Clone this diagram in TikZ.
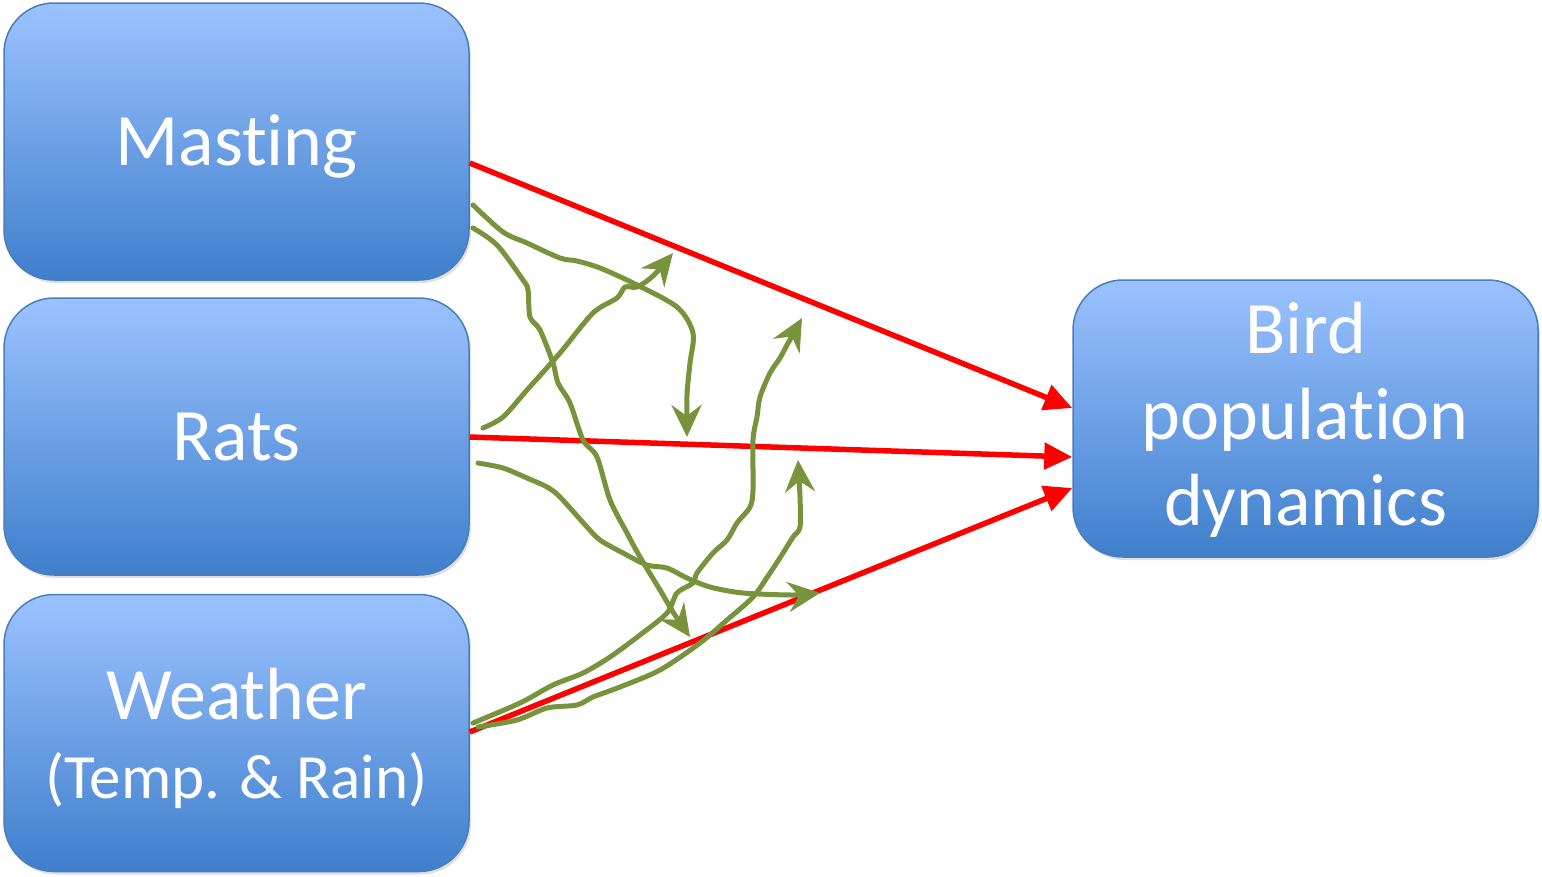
\documentclass[tikz,border=0pt]{standalone}
\usepackage{fontspec}
\setmainfont{Carlito}[Ligatures=NoCommon]
\usetikzlibrary{arrows.meta,shadows,calc}
\definecolor{boxtop}{HTML}{9BC2FF}
\definecolor{boxbot}{HTML}{3F7FCC}
\definecolor{boxline}{HTML}{4A7EBB}
\definecolor{olive}{HTML}{77933C}
\newcommand{\upstrut}[1]{\rule{0pt}{#1}}
\newcommand{\dnstrut}[1]{\rule[-#1]{0pt}{#1}}
\tikzset{
  factor/.style={draw=boxline, line width=1.5pt, rounded corners=50pt,
    top color=boxtop, bottom color=boxbot, minimum width=465pt, minimum height=277pt,
    text=white, align=center, font=\fontsize{74}{86}\selectfont, inner sep=0pt,
    drop shadow={opacity=0.25, shadow xshift=2pt, shadow yshift=-3pt}},
  effect/.style={draw=red, line width=5.5pt, -{Triangle[length=28pt,width=26pt]}},
  link/.style={draw=olive, line width=5pt, line cap=round, line join=round,
    -{Stealth[length=32pt,width=30pt,inset=11pt]}}
}
\begin{document}
\begin{tikzpicture}[x=1pt,y=-1pt]
\useasboundingbox (0,0) rectangle (1542,876);
\node[factor] (mast) at (236.5,141.5) {\upstrut{68.4pt}Masting\dnstrut{20pt}};
\node[factor] (rats) at (236.5,436.5) {\upstrut{68.4pt}Rats\dnstrut{20pt}};
\node[factor, font=\fontsize{74}{79}\selectfont] (weat) at (236.5,733)
  {\upstrut{66.6pt}Weather\\{\fontsize{63}{79}\selectfont (Temp. \& Rain)\dnstrut{15pt}}};
\node[factor] (bird) at (1305.5,418.5) {\upstrut{60.3pt}Bird\\population\\dynamics\dnstrut{19pt}};
% red direct effects
\draw[effect] ($(mast.east)+(0,21.5)$) -- ($(bird.west)+(0,-10.5)$);
\draw[effect] ($(rats.east)+(0,0.5)$) -- ($(bird.west)+(0,38.5)$);
\draw[effect] ($(weat.east)+(0,-1)$) -- ($(bird.west)+(0,69.5)$);
% green interaction curves
\coordinate (a0) at (473,205);
\coordinate (a1) at (687,437);
\draw[link] plot[smooth, tension=0.5] coordinates {(a0) (503,232) (527,243) (560,258) (577,261) (600,268) (633,283) (677,307) (693,333) (690,363) (687,395) (a1)};
\coordinate (b0) at (473,228);
\coordinate (b1) at (690,637);
\draw[link] plot[smooth, tension=0.5] coordinates {(b0) (497,245) (523,280) (528,290) (530,317) (540,330) (553,363) (558,383) (570,403) (583,440) (597,457) (610,500) (627,533) (640,557) (660,590) (673,612) (b1)};
\coordinate (c0) at (483,428);
\coordinate (c1) at (673,253);
\draw[link] plot[smooth, tension=0.5] coordinates {(c0) (503,417) (527,390) (560,353) (593,313) (617,298) (625,287) (637,287) (653,276) (c1)};
\coordinate (d0) at (473,723);
\coordinate (d1) at (802,318);
\draw[link] plot[smooth, tension=0.5] coordinates {(d0) (520,703) (553,685) (583,673) (610,657) (640,635) (667,613) (677,593) (693,583) (697,573) (713,553) (727,540) (737,523) (750,507) (753,490) (753,440) (757,417) (760,397) (770,373) (780,358) (787,345) (d1)};
\coordinate (e0) at (478,727);
\coordinate (e1) at (798,460);
\draw[link] plot[smooth, tension=0.5] coordinates {(e0) (517,720) (547,708) (577,705) (593,697) (620,687) (660,670) (700,643) (727,620) (753,597) (770,573) (783,553) (793,537) (800,527) (800,497) (e1)};
\coordinate (f0) at (478,463);
\coordinate (f1) at (820,593);
\draw[link] plot[smooth, tension=0.5] coordinates {(f0) (503,468) (527,478) (547,487) (560,497) (587,527) (600,540) (623,553) (647,565) (667,568) (687,578) (710,587) (743,593) (793,595) (f1)};
\end{tikzpicture}
\end{document}
